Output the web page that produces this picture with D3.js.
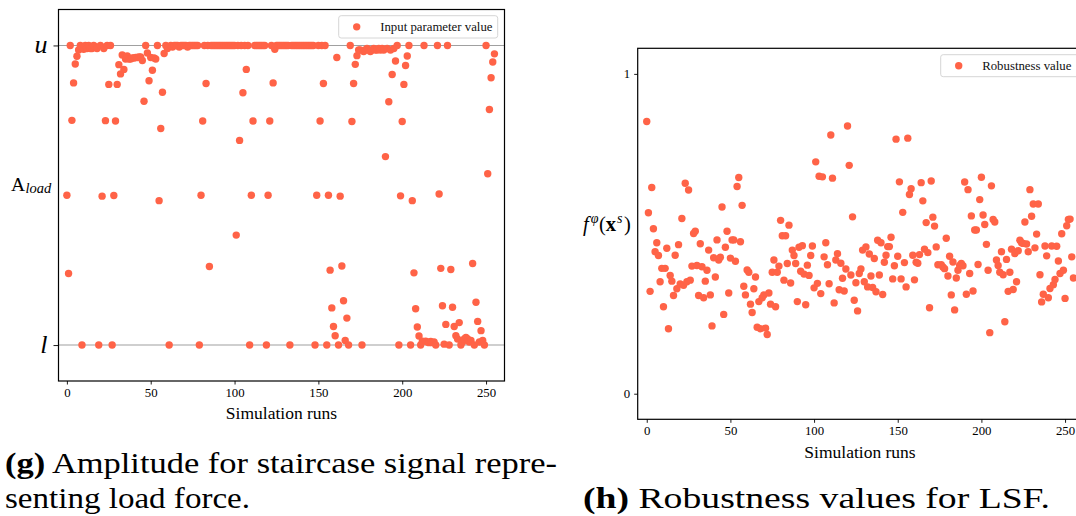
<!DOCTYPE html>
<html><head><meta charset="utf-8">
<script src="https://cdn.jsdelivr.net/npm/d3@7"></script>
<style>body{margin:0;background:#fff;overflow:hidden} svg{display:block}</style>
</head><body><svg id="c" width="1076" height="516"></svg>
<script>
// ---------- data ----------
const xTickValues = [0, 50, 100, 150, 200, 250];
const yTickValuesG = [0, 1];
const yTickLabelsG = ["l", "u"];
const yTickValuesH = [0, 1];
const yTickLabelsH = ["0", "1"];
const legendG = "Input parameter value";
const legendH = "Robustness value";
const xLabel = "Simulation runs";

// panel (g): normalised amplitude per simulation run (l = 0, u = 1)
const valuesG = [
0.5,0.239,1,0.75,0.875,0.938,0.964,0.985,1,0,
0.987,1,0.99,1,0.99,0.99,1,0.995,0.99,0,
1,0.497,0.99,0.749,1,0.87,1,0,0.499,0.748,
0.87,0.936,0.905,0.968,0.92,0.955,0.965,0.955,0.955,0.958,
0.958,0.96,0.96,0.962,0.962,0.95,0.814,1,0.975,0.882,
0.96,0.917,0.958,0.955,1,0.482,0.723,0.844,0.973,1,
0.99,0,1,0.995,1,1,1,0.995,1,1,
1,1,0.995,1,1,1,1,1,1,0,
0.5,0.748,1,0.873,1,0.262,1,1,1,1,
1,1,1,1,1,1,1,1,1,1,
1,0.367,1,0.683,1,0.842,1,0.92,1,0,
0.5,0.748,1,1,1,1,1,1,1,0,
0.5,0.748,1,0.875,0.987,1,1,1,1,1,
1,1,1,0,1,1,1,1,1,1,
1,1,1,1,1,1,1,1,0,0.5,
1,0.748,1,0.873,1,0,0.5,0.25,0.124,0.062,
0.031,0.96,0,0.497,0.264,0.148,0.015,0.09,0,1,
0.746,0.873,0.937,0.966,0.985,0.985,0,0.98,0.985,0.99,
0.985,0.98,0.985,0.99,0.985,0.985,0.99,0.985,0.99,0.985,
0.629,0.99,0.812,0.985,0.903,0.99,0.948,1,0,0.498,
0.746,0.87,0.933,0.965,1,0,0.482,0.241,0.121,0.06,
0.03,0,0.013,1,0.013,0.01,0.008,0.012,0.008,0.01,
0,1,0.504,0.256,0.131,0.003,0.069,1,0,0.252,
0.126,0.062,0.031,0.02,0.075,0,0.01,0.02,0.025,0.02,
0.01,0.015,0.272,0,0.143,0.079,0.01,0.048,0.015,0,
1,0.572,0.786,0.892,0.945,0.972
];
const runsG = valuesG.map((v, i) => i);

// panel (h): robustness values
const runsH = d3.range(0, 175).concat(d3.range(176, 256));
const valuesH = [
0.851,0.566,0.32,0.645,0.516,0.444,0.472,0.432,0.35,0.392,
0.272,0.392,0.455,0.203,0.37,0.352,0.307,0.433,0.328,0.466,
0.343,0.548,0.339,0.658,0.35,0.637,0.355,0.399,0.501,0.508,
0.401,0.307,0.469,0.397,0.3,0.352,0.386,0.449,0.309,0.212,
0.425,0.365,0.481,0.418,0.427,0.584,0.248,0.458,0.508,0.315,
0.424,0.481,0.481,0.414,0.648,0.676,0.475,0.589,0.336,0.309,
0.387,0.38,0.28,0.254,0.328,0.365,0.208,0.288,0.203,0.3,
0.309,0.205,0.185,0.315,0.28,0.38,0.418,0.272,0.38,0.399,
0.542,0.494,0.355,0.494,0.407,0.527,0.346,0.449,0.432,0.407,
0.288,0.458,0.383,0.463,0.374,0.278,0.402,0.37,0.432,0.462,
0.331,0.725,0.345,0.68,0.313,0.678,0.428,0.472,0.403,0.344,
0.809,0.674,0.284,0.418,0.438,0.325,0.408,0.361,0.321,0.39,
0.837,0.714,0.371,0.553,0.292,0.347,0.259,0.376,0.39,
0.449,0.35,0.459,0.334,0.437,0.368,0.332,0.423,0.319,0.48,
0.371,0.472,0.31,0.411,0.433,0.46,0.46,0.489,0.359,0.4,
0.796,0.43,0.6625,0.359,0.567,0.41,0.334,0.799,0.623,0.641,
0.433,0.356,0.411,0.408,0.435,0.66,0.603,0.452,0.535,0.441,
0.269,0.665,0.552,0.524,0.459,0.403,
0.403,0.396,0.391,0.486,0.368,0.43,0.309,0.412,0.262,0.362,
0.386,0.401,0.407,0.4,0.662,0.311,0.638,0.376,0.556,0.321,
0.512,0.512,0.404,0.607,0.677,0.559,0.529,0.467,0.386,0.191,
0.65,0.545,0.537,0.418,0.401,0.38,0.444,0.372,0.225,0.42,
0.32,0.38,0.452,0.326,0.438,0.35,0.447,0.48,0.472,0.47,
0.537,0.468,0.444,0.638,0.555,0.593,0.456,0.499,0.593,0.372,
0.287,0.311,0.462,0.431,0.3,0.329,0.462,0.341,0.357,0.461,
0.415,0.376,0.5,0.386,0.298,0.525,0.545,0.546,0.428,0.362
];

// ---------- drawing ----------
const svg = d3.select("#c");
const COLOR = "#ff6347";
const SERIF = "Liberation Serif, Times New Roman, serif";
const R = 3.7;

function styleAxis(g, fs) {
  g.select(".domain").remove();
  g.selectAll(".tick line").attr("stroke", "#000").attr("stroke-width", 0.9);
  g.selectAll(".tick text").attr("font-family", SERIF).attr("font-size", fs).attr("fill", "#000");
}

function frame(x0, y0, x1, y1) {
  svg.append("rect").attr("x", x0).attr("y", y0).attr("width", x1 - x0).attr("height", y1 - y0)
    .attr("fill", "none").attr("stroke", "#000").attr("stroke-width", 1.2);
}

function legend(x, y, w, h, label) {
  const g = svg.append("g");
  g.append("rect").attr("x", x).attr("y", y).attr("width", w).attr("height", h).attr("rx", 2.5)
    .attr("fill", "#fff").attr("fill-opacity", 0.8).attr("stroke", "#d6d6d6").attr("stroke-width", 1);
  g.append("circle").attr("cx", x + 18).attr("cy", y + h / 2).attr("r", R).attr("fill", COLOR);
  g.append("text").attr("x", x + 41.5).attr("y", y + h / 2 + 4.3).attr("font-family", SERIF)
    .attr("font-size", 12.8).attr("fill", "#111").text(label);
}

// ----- panel g -----
{
  const L = 58.5, Rr = 504.5, T = 9.5, B = 381;
  const x = d3.scaleLinear().domain([-5, 261]).range([L, Rr]);
  const y = d3.scaleLinear().domain([-0.12, 1.12]).range([B, T]);

  svg.append("g").selectAll("line").data(yTickValuesG).join("line")
    .attr("x1", L).attr("x2", Rr).attr("y1", d => y(d)).attr("y2", d => y(d))
    .attr("stroke", "#a0a0a0").attr("stroke-width", 1.1);

  svg.append("g").selectAll("circle").data(runsG.map((r, i) => [r, valuesG[i]])).join("circle")
    .attr("cx", d => x(d[0])).attr("cy", d => y(d[1])).attr("r", R).attr("fill", COLOR);

  frame(L, T, Rr, B);

  const xa = svg.append("g").attr("transform", `translate(0,${B})`)
    .call(d3.axisBottom(x).tickValues(xTickValues).tickSize(3.5).tickPadding(3));
  styleAxis(xa, 12.8);

  const ya = svg.append("g").attr("transform", `translate(${L},0)`)
    .call(d3.axisLeft(y).tickValues(yTickValuesG).tickSize(5).tickPadding(6)
      .tickFormat((d, i) => yTickLabelsG[i]));
  styleAxis(ya, 26);
  ya.selectAll(".tick text").attr("font-style", "italic").attr("dy", "0.28em");

  const yl = svg.append("text").attr("x", 11).attr("y", 190.5).attr("font-family", SERIF).attr("fill", "#000");
  yl.append("tspan").attr("font-size", 19.5).text("A");
  yl.append("tspan").attr("font-size", 14.5).attr("font-style", "italic").attr("dy", 2.5).attr("dx", 0.5).text("load");

  svg.append("text").attr("x", (L + Rr) / 2).attr("y", 419).attr("text-anchor", "middle")
    .attr("font-family", SERIF).attr("font-size", 17.5).attr("fill", "#000").text(xLabel);

  legend(338.7, 15.7, 159, 22.3, legendG);
}

// ----- panel h -----
{
  const L = 637.7, T = 48.3, B = 419.3;
  const x = d3.scaleLinear().domain([-5.4, 261]).range([L, L + 266.4 * 1.6733]);
  const y = d3.scaleLinear().domain([-0.08, 1.08]).range([B, T]);
  const Rr = x(261);

  svg.append("g").selectAll("circle").data(runsH.map((r, i) => [r, valuesH[i]])).join("circle")
    .attr("cx", d => x(d[0])).attr("cy", d => y(d[1])).attr("r", R).attr("fill", COLOR);

  frame(L, T, Rr, B);

  const xa = svg.append("g").attr("transform", `translate(0,${B})`)
    .call(d3.axisBottom(x).tickValues(xTickValues).tickSize(3.5).tickPadding(3));
  styleAxis(xa, 12.8);

  const ya = svg.append("g").attr("transform", `translate(${L},0)`)
    .call(d3.axisLeft(y).tickValues(yTickValuesH).tickSize(3.5).tickPadding(4)
      .tickFormat((d, i) => yTickLabelsH[i]));
  styleAxis(ya, 12.8);

  const yl = svg.append("text").attr("x", 583).attr("y", 231).attr("font-family", SERIF)
    .attr("font-size", 20.5).attr("fill", "#000");
  yl.append("tspan").attr("font-style", "italic").text("f");
  yl.append("tspan").attr("font-style", "italic").attr("font-size", 14).attr("dy", -8).attr("dx", 2).text("φ");
  yl.append("tspan").attr("dy", 8).attr("dx", 0.5).text("(");
  yl.append("tspan").attr("font-weight", "bold").text("x");
  yl.append("tspan").attr("font-style", "italic").attr("font-size", 14).attr("dy", -8).attr("dx", 1).text("s");
  yl.append("tspan").attr("dy", 8).attr("dx", 1.5).text(")");

  svg.append("text").attr("x", 860).attr("y", 458).attr("text-anchor", "middle")
    .attr("font-family", SERIF).attr("font-size", 17.5).attr("fill", "#000").text(xLabel);

  legend(940.7, 54.7, 160, 22, legendH);
}

// ----- captions -----
function caption(x, yb, parts, width) {
  const t = svg.append("text").attr("x", x).attr("y", yb).attr("font-family", SERIF)
    .attr("font-size", 30).attr("fill", "#000");
  parts.forEach(p => t.append("tspan").attr("font-weight", p[1] ? "bold" : "normal").text(p[0]));
  t.attr("textLength", width).attr("lengthAdjust", "spacingAndGlyphs");
}
caption(5, 473, [["(g)", true], [" Amplitude for staircase signal repre-", false]], 552);
caption(5, 508, [["senting load force.", false]], 245);
caption(583, 508, [["(h)", true], [" Robustness values for LSF.", false]], 467);
</script></body></html>
